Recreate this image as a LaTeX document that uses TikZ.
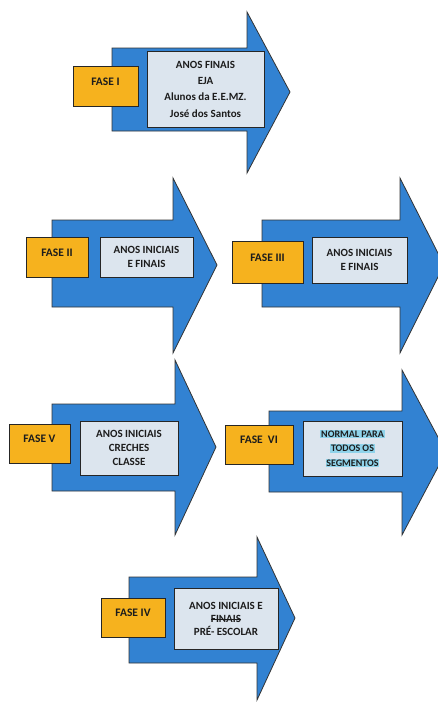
\documentclass[tikz,border=0pt]{standalone}
\usepackage{fontspec}
\setmainfont{Carlito}
\usetikzlibrary{positioning}
\definecolor{setaazul}{HTML}{3282D2}
\definecolor{faselaranja}{HTML}{F6B21E}
\definecolor{caixacinza}{HTML}{DCE5EE}
\definecolor{realce}{HTML}{8FD3EA}
\definecolor{textoescuro}{HTML}{1C1C1C}
\newlength\riscolen
\newcommand\riscado[1]{\settowidth{\riscolen}{#1}\rlap{#1}\rule[0.55ex]{\riscolen}{0.5pt}}

\begin{document}
\begin{tikzpicture}[x=1pt,y=-1pt,
  seta/.style={fill=setaazul,draw=black!80,line width=0.8pt,line join=miter},
  fase/.style={rectangle,fill=faselaranja,draw=black!85,line width=0.8pt,font=\bfseries\fontsize{11.5}{13}\selectfont,text=textoescuro,text height=7.5pt,text depth=9pt,inner sep=0pt},
  conteudo/.style={rectangle,fill=caixacinza,draw=black!85,line width=0.8pt,font=\bfseries\fontsize{11}{13.5}\selectfont,text=textoescuro,align=center,inner sep=0pt}
]
  \useasboundingbox (0,0) rectangle (438,702);
  \fill[white] (0,0) rectangle (438,702);
  \clip (0,0) rectangle (438,702);
  \foreach \xa/\ya/\yb/\xb/\yc/\yd/\xc/\ye in {112/48/131/247/12/173/290/92,
                                              52/220/307/173/178/353/217/265,
                                              262/220/307/400/178/353/444/265,
                                              52/404/491/175/360/535/216/447,
                                              269/411/492/402/370/535/446/452,
                                              129/577/663/257/537/700/295/618}
  { \draw[seta](\xa,\ya)--(\xb,\ya)--(\xb,\yc)--(\xc,\ye)--(\xb,\yd)--(\xb,\yb)--(\xa,\yb)--cycle; }

  \node[fase,minimum width=65pt,minimum height=40pt] (F1) at (105.5,86) {FASE I};
  \node[conteudo,minimum width=117pt,minimum height=76pt,font=\bfseries\fontsize{11}{16.3}\selectfont] (C1) at (205.5,89)
    {ANOS FINAIS\\EJA\\Alunos da E.E.MZ.\\José dos Santos};

  \node[fase,minimum width=62pt,minimum height=40pt] (F2) at (57,257) {FASE II};
  \node[conteudo,minimum width=93pt,minimum height=40pt] (C2) at (146.5,257) {ANOS INICIAIS\\E FINAIS};

  \node[fase,minimum width=71pt,minimum height=42pt] (F3) at (267.5,262) {FASE III};
  \node[conteudo,minimum width=95pt,minimum height=46pt] (C3) at (359.5,260) {ANOS INICIAIS\\E FINAIS};

  \node[fase,minimum width=61pt,minimum height=39pt] (F5) at (39.5,443.5) {FASE V};
  \node[conteudo,minimum width=98pt,minimum height=54pt,font=\bfseries\fontsize{11}{14}\selectfont] (C5) at (129,448)
    {ANOS INICIAIS\\CRECHES\\CLASSE};

  \node[fase,minimum width=68pt,minimum height=39pt] (F6) at (259,444.5) {FASE\ \ VI};
  \node[conteudo,minimum width=99pt,minimum height=55pt,font=\bfseries\fontsize{10}{14.5}\selectfont] (C6) at (352.5,448.5)
    {\setlength{\fboxsep}{0.8pt}\colorbox{realce}{NORMAL PARA}\\\setlength{\fboxsep}{0.8pt}\colorbox{realce}{TODOS OS}\\\setlength{\fboxsep}{0.8pt}\colorbox{realce}{SEGMENTOS}};

  \node[fase,minimum width=64pt,minimum height=39pt] (F4) at (133,617.5) {FASE IV};
  \node[conteudo,minimum width=104pt,minimum height=61pt,font=\bfseries\fontsize{11}{13}\selectfont] (C4) at (226,618.5)
    {ANOS INICIAIS E\\\riscado{FINAIS}\\PRÉ- ESCOLAR};
\end{tikzpicture}
\end{document}
